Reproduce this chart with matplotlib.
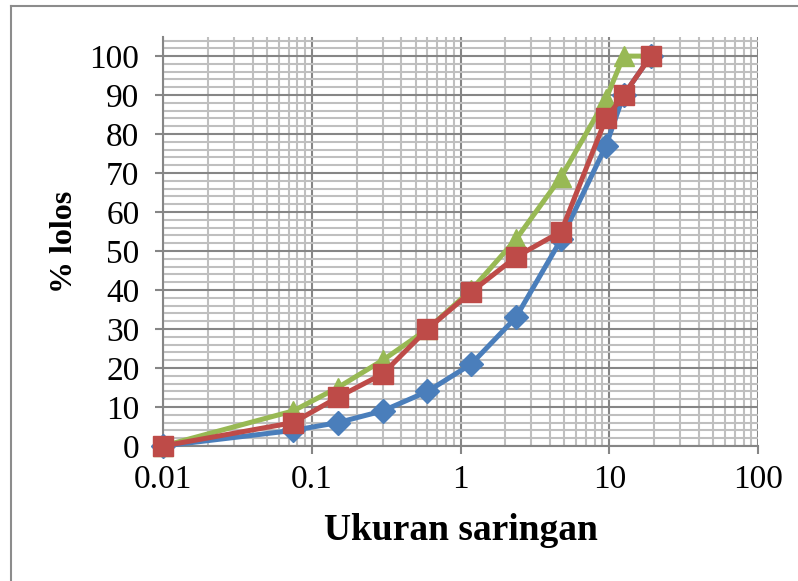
import matplotlib
matplotlib.use("Agg")
import matplotlib.pyplot as plt
from matplotlib.lines import Line2D
from matplotlib.ticker import FixedLocator, MultipleLocator, NullFormatter

plt.rcParams['font.family'] = ['Liberation Serif', 'DejaVu Serif']

sieve = [0.01, 0.075, 0.15, 0.3, 0.6, 1.18, 2.36, 4.75, 9.5, 12.5, 19]
blue = [0, 4, 6, 9, 14, 21, 33, 53, 77, 90, 100]
red = [0, 6, 12.5, 18.5, 30, 39.5, 48.5, 55, 84, 90, 100]
green = [0, 9, 15, 22, 30, 40, 53, 69, 89, 100, 100]
xticks = [0.01, 0.1, 1, 10, 100]
xticklabels = ["0.01", "0.1", "1", "10", "100"]
yticks = list(range(0, 101, 10))
xlabel = "Ukuran saringan"
ylabel = "% lolos"

W, H = 798, 581
fig = plt.figure(figsize=(W / 100, H / 100), dpi=100)
ax = fig.add_axes([163 / W, 1 - 446 / H, (758 - 163) / W, (446 - 37) / H])

major_c = "#868686"
minor_c = "#bfbfbf"

ax.set_xscale("log")
ax.set_xlim(0.01, 100)
ax.set_ylim(0, 104.9)

ax.xaxis.set_major_locator(FixedLocator(xticks))
ax.set_xticklabels(xticklabels)
minors = [m * 10.0 ** e for e in range(-2, 2) for m in range(2, 10)]
ax.xaxis.set_minor_locator(FixedLocator(minors))
ax.xaxis.set_minor_formatter(NullFormatter())
ax.yaxis.set_major_locator(FixedLocator(yticks))
ax.yaxis.set_minor_locator(MultipleLocator(2))

ax.grid(which="minor", color=minor_c, linewidth=1.5, zorder=0)
ax.grid(which="major", color=major_c, linewidth=1.5, zorder=0)
ax.set_axisbelow(True)

for s in ["top", "right"]:
    ax.spines[s].set_visible(False)
for s in ["left", "bottom"]:
    ax.spines[s].set_color(major_c)
    ax.spines[s].set_linewidth(1.5)

ax.tick_params(which="major", length=6, width=1.5, color=major_c,
               labelsize=24, labelcolor="black")
ax.tick_params(axis="y", which="major", pad=11)
ax.tick_params(axis="x", which="major", pad=7)
ax.tick_params(which="minor", length=0)

lw = 3.6
ax.plot(sieve, blue, color="#4A7EBB", lw=lw, marker="D", ms=12, mec="#4A7EBB", zorder=3, clip_on=False)
ax.plot(sieve, green, color="#98B954", lw=lw, marker="^", ms=15, mec="#98B954", zorder=4, clip_on=False)
ax.plot(sieve, red, color="#BE4B48", lw=lw, marker="s", ms=14, mec="#BE4B48", zorder=5, clip_on=False)

fig.text(461 / W, 1 - 531 / H, xlabel, ha="center", va="center",
         fontsize=27, fontweight="bold")
fig.text(64 / W, 1 - 242 / H, ylabel, ha="center", va="center",
         rotation=90, fontsize=23, fontweight="bold")

border_c = "#8c8c8c"
fig.add_artist(Line2D([10.5 / W, 10.5 / W], [0, 1 - 6 / H], transform=fig.transFigure,
                      color=border_c, lw=1.5))
fig.add_artist(Line2D([10.5 / W, 1], [1 - 6 / H, 1 - 6 / H], transform=fig.transFigure,
                      color=border_c, lw=1.5))

fig.savefig("out.png", dpi=100)
